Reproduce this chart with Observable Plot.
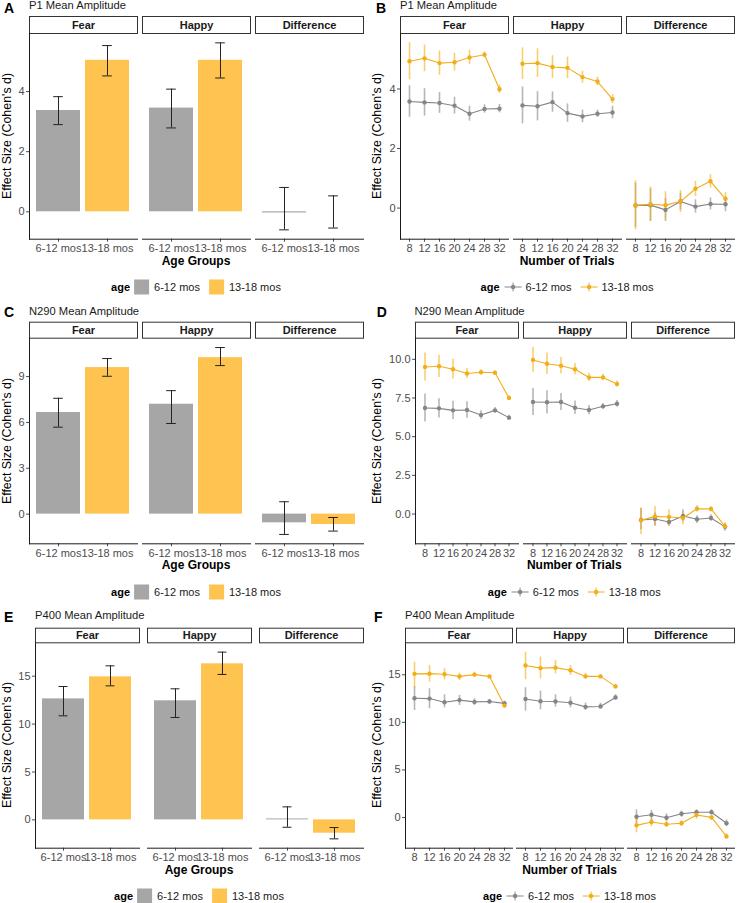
<!DOCTYPE html>
<html>
<head>
<meta charset="utf-8">
<script src="https://cdn.jsdelivr.net/npm/d3@7"></script>
<script src="https://cdn.jsdelivr.net/npm/@observablehq/plot@0.6"></script>
<style>
  body { margin: 0; background: #fff; font-family: "Liberation Sans", Arial, sans-serif; }
  #fig { position: relative; width: 739px; height: 903px; overflow: hidden; background: #fff; }
  .panel { position: absolute; width: 369px; height: 300px; }
  .panel svg { position: absolute; left: 0; top: 0; overflow: visible; }
  .letter { position: absolute; font-weight: bold; font-size: 14px; line-height: 1; color: #000; }
  .title { position: absolute; font-size: 11.2px; line-height: 1; color: #1a1a1a; white-space: nowrap; }
  .ytitle { position: absolute; left: 7px; font-size: 12.4px; line-height: 1; color: #000; white-space: nowrap;
            transform: translate(-50%, -50%) rotate(-90deg); }
  .xtitle { position: absolute; font-size: 12px; line-height: 1; font-weight: bold; color: #000; white-space: nowrap;
            transform: translate(-50%, -50%); }
  .legend { position: absolute; display: flex; align-items: center; font-size: 11px; line-height: 1; white-space: nowrap;
            transform: translate(-50%, -50%); color: #1a1a1a; }
</style>
</head>
<body>
<div id="fig"></div>
<script>
// ---------------- data ----------------
const conditions = ["Fear", "Happy", "Difference"];
const ages = ["6-12 mos", "13-18 mos"];
const trials = [8, 12, 16, 20, 24, 28, 32];
const componentTitles = ["P1 Mean Amplitude", "N290 Mean Amplitude", "P400 Mean Amplitude"];
const barLetters = ["A", "C", "E"];
const lineLetters = ["B", "D", "F"];

// bar panels: rows = condition, columns = age group
const p1BarMean = [[3.37, 5.04], [3.45, 5.04], [-0.04, 0.00]];
const p1BarLo   = [[2.90, 4.52], [2.79, 4.45], [-0.60, -0.54]];
const p1BarHi   = [[3.83, 5.53], [4.08, 5.62], [0.81, 0.53]];

const n290BarMean = [[6.65, 9.59], [7.19, 10.24], [-0.57, -0.68]];
const n290BarLo   = [[5.69, 9.02], [5.93, 9.72], [-1.33, -1.11]];
const n290BarHi   = [[7.58, 10.18], [8.08, 10.90], [0.81, -0.22]];

const p400BarMean = [[12.63, 14.93], [12.43, 16.29], [0.10, -1.39]];
const p400BarLo   = [[10.86, 13.99], [10.69, 15.18], [-0.77, -1.98]];
const p400BarHi   = [[13.92, 16.08], [13.68, 17.51], [1.36, -0.80]];

// line panels: rows = condition, columns = number of trials
const p1YoungMean = [[3.58, 3.55, 3.53, 3.44, 3.17, 3.33, 3.34], [3.45, 3.42, 3.56, 3.19, 3.08, 3.17, 3.21], [0.09, 0.10, -0.06, 0.22, 0.05, 0.14, 0.13]];
const p1YoungLo   = [[3.05, 3.09, 3.18, 3.16, 2.92, 3.19, 3.20], [2.83, 2.93, 3.22, 2.88, 2.87, 3.05, 3.00], [-0.65, -0.45, -0.45, -0.06, -0.17, -0.06, -0.12]];
const p1YoungHi   = [[4.11, 4.01, 3.88, 3.72, 3.42, 3.47, 3.48], [4.07, 3.91, 3.90, 3.50, 3.29, 3.29, 3.42], [0.83, 0.65, 0.33, 0.50, 0.28, 0.34, 0.38]];
const p1OldMean   = [[4.93, 5.03, 4.87, 4.90, 5.06, 5.15, 3.99], [4.85, 4.87, 4.74, 4.71, 4.40, 4.25, 3.66], [0.09, 0.13, 0.10, 0.22, 0.65, 0.90, 0.31]];
const p1OldLo     = [[4.31, 4.58, 4.46, 4.60, 4.82, 5.05, 3.85], [4.32, 4.39, 4.36, 4.35, 4.20, 4.10, 3.51], [-0.73, -0.45, -0.35, -0.15, 0.39, 0.67, 0.10]];
const p1OldHi     = [[5.55, 5.48, 5.28, 5.20, 5.30, 5.25, 4.13], [5.38, 5.35, 5.12, 5.07, 4.60, 4.40, 3.81], [0.92, 0.71, 0.55, 0.59, 0.90, 1.12, 0.52]];

const n290YoungMean = [[6.85, 6.83, 6.70, 6.72, 6.40, 6.70, 6.23], [7.24, 7.22, 7.24, 6.87, 6.72, 6.96, 7.13], [-0.38, -0.32, -0.52, -0.13, -0.34, -0.26, -0.83]];
const n290YoungLo   = [[5.95, 6.21, 6.11, 6.19, 6.13, 6.52, 6.08], [6.36, 6.47, 6.69, 6.44, 6.42, 6.77, 6.92], [-1.00, -0.79, -0.79, -0.47, -0.62, -0.47, -1.11]];
const n290YoungHi   = [[7.75, 7.45, 7.29, 7.25, 6.67, 6.88, 6.38], [8.12, 7.97, 7.79, 7.30, 7.02, 7.15, 7.34], [0.38, 0.06, -0.26, 0.27, -0.11, -0.04, -0.62]];
const n290OldMean   = [[9.50, 9.55, 9.36, 9.08, 9.16, 9.13, 7.50], [9.96, 9.71, 9.58, 9.36, 8.83, 8.83, 8.40], [-0.41, -0.15, -0.19, -0.26, 0.34, 0.33, -0.79]];
const n290OldLo     = [[8.60, 8.83, 8.72, 8.76, 9.00, 9.02, 7.35], [9.16, 9.02, 9.05, 8.99, 8.56, 8.62, 8.21], [-1.32, -0.75, -0.79, -0.70, 0.13, 0.13, -1.00]];
const n290OldHi     = [[10.40, 10.27, 10.00, 9.40, 9.32, 9.24, 7.65], [10.76, 10.40, 10.11, 9.73, 9.10, 9.04, 8.59], [0.38, 0.49, 0.27, 0.15, 0.55, 0.49, -0.57]];

const p400YoungMean = [[12.53, 12.50, 12.12, 12.34, 12.15, 12.20, 12.00], [12.45, 12.22, 12.20, 12.06, 11.63, 11.67, 12.62], [0.08, 0.30, -0.03, 0.39, 0.55, 0.56, -0.60]];
const p400YoungLo   = [[11.25, 11.43, 11.53, 11.78, 11.78, 11.96, 11.67], [11.18, 11.32, 11.60, 11.53, 11.25, 11.49, 12.38], [-0.74, -0.32, -0.39, 0.03, 0.21, 0.30, -0.95]];
const p400YoungHi   = [[13.78, 13.53, 12.90, 12.83, 12.48, 12.41, 12.23], [13.64, 13.28, 12.90, 12.65, 12.02, 12.02, 12.90], [0.81, 0.74, 0.39, 0.67, 0.81, 0.82, -0.25]];
const p400OldMean   = [[15.10, 15.12, 15.05, 14.83, 15.02, 14.83, 11.76], [15.98, 15.70, 15.75, 15.47, 14.83, 14.83, 13.78], [-0.82, -0.47, -0.70, -0.60, 0.26, 0.02, -1.98]];
const p400OldLo     = [[13.64, 14.23, 14.48, 14.41, 14.75, 14.69, 11.54], [14.48, 14.58, 15.11, 14.93, 14.58, 14.65, 13.53], [-1.60, -0.95, -1.02, -0.95, -0.18, -0.32, -2.24]];
const p400OldHi     = [[16.33, 15.98, 15.64, 15.17, 15.28, 14.93, 12.02], [17.38, 16.86, 16.51, 15.98, 15.17, 15.00, 13.99], [-0.10, -0.14, -0.39, -0.32, 0.63, 0.21, -1.71]];

const barYTicks  = [[0, 2, 4], [0, 3, 6, 9], [0, 5, 10, 15]];
const lineYTicks = [[0, 2, 4], [0, 2.5, 5, 7.5, 10], [0, 5, 10, 15]];

// ---------------- styling / layout ----------------
const FONT = '"Liberation Sans", Arial, sans-serif';
const barColors = ["#A6A6A6", "#FEC44F"];
const lineColors = ["#858585", "#F2AE18"];
const rows = [
  {top: 0,   stripTop: 16,   plotTop: 33,   plotBottom: 238.7, titleBase: 9.5,  letterBase: 12.7, xTitleY: 260.5, legendY: 287},
  {top: 300, stripTop: 21.7, plotTop: 37.7, plotBottom: 243.3, titleBase: 15,   letterBase: 16.7, xTitleY: 265,   legendY: 291.7},
  {top: 600, stripTop: 27.7, plotTop: 42.3, plotBottom: 247.7, titleBase: 19.3, letterBase: 21.7, xTitleY: 270,   legendY: 295.7}
];
const barLayout  = [{ml: 29, mr: 6, gap: 5, lx: 4}, {ml: 29, mr: 6, gap: 5, lx: 4}, {ml: 35, mr: 6, gap: 8, lx: 4}];
const lineLayout = [{ml: 30, mr: 5, gap: 5, lx: 6}, {ml: 44.5, mr: 5, gap: 5.5, lx: 6.7}, {ml: 35, mr: 5, gap: 4.5, lx: 4}];

function barRows(mean, lo, hi) {
  return conditions.flatMap((c, i) => ages.map((a, j) => ({cond: c, age: a, mean: mean[i][j], lo: lo[i][j], hi: hi[i][j]})));
}
function lineRows(groups) {
  return groups.flatMap(([age, mean, lo, hi]) =>
    conditions.flatMap((c, i) => trials.map((t, k) => ({cond: c, age, trial: t, mean: mean[i][k], lo: lo[i][k], hi: hi[i][k]}))));
}
function yDomain(data, withZero) {
  const vals = data.flatMap(d => [d.mean, d.lo, d.hi]);
  if (withZero) vals.push(0);
  const [a, b] = d3.extent(vals);
  const pad = (b - a) * 0.05;
  return [a - pad, b + pad];
}

const barData = [
  barRows(p1BarMean, p1BarLo, p1BarHi),
  barRows(n290BarMean, n290BarLo, n290BarHi),
  barRows(p400BarMean, p400BarLo, p400BarHi)
];
const lineData = [
  lineRows([[ages[0], p1YoungMean, p1YoungLo, p1YoungHi], [ages[1], p1OldMean, p1OldLo, p1OldHi]]),
  lineRows([[ages[0], n290YoungMean, n290YoungLo, n290YoungHi], [ages[1], n290OldMean, n290OldLo, n290OldHi]]),
  lineRows([[ages[0], p400YoungMean, p400YoungLo, p400YoungHi], [ages[1], p400OldMean, p400OldLo, p400OldHi]])
];

const fig = document.getElementById("fig");

function addText(parent, cls, text, styles) {
  const el = document.createElement("div");
  el.className = cls;
  el.textContent = text;
  Object.assign(el.style, styles);
  parent.appendChild(el);
  return el;
}

function legend(parent, kind, colors, x, y) {
  const wrap = document.createElement("div");
  wrap.className = "legend";
  wrap.style.left = x + "px";
  wrap.style.top = y + "px";
  const t = document.createElement("span");
  t.textContent = "age";
  t.style.fontWeight = "bold";
  t.style.color = "#000";
  t.style.marginRight = kind === "bar" ? "4px" : "5px";
  wrap.appendChild(t);
  ages.forEach((a, i) => {
    let key;
    if (kind === "bar") {
      key = document.createElement("span");
      Object.assign(key.style, {display: "inline-block", width: "15px", height: "15px", background: colors[i],
        marginLeft: i ? "9px" : "0", marginRight: "5px"});
    } else {
      const ns = "http://www.w3.org/2000/svg";
      key = document.createElementNS(ns, "svg");
      key.setAttribute("width", 17); key.setAttribute("height", 15);
      key.style.marginLeft = i ? "9px" : "0";
      key.style.marginRight = "4px";
      key.style.position = "static";
      const h = document.createElementNS(ns, "line");
      h.setAttribute("x1", 0); h.setAttribute("x2", 17); h.setAttribute("y1", 7.5); h.setAttribute("y2", 7.5);
      h.setAttribute("stroke", colors[i]); h.setAttribute("stroke-width", 1);
      const v = document.createElementNS(ns, "line");
      v.setAttribute("x1", 8.5); v.setAttribute("x2", 8.5); v.setAttribute("y1", 3); v.setAttribute("y2", 12);
      v.setAttribute("stroke", colors[i]); v.setAttribute("stroke-width", 1.5); v.setAttribute("stroke-opacity", 0.6);
      const c = document.createElementNS(ns, "circle");
      c.setAttribute("cx", 8.5); c.setAttribute("cy", 7.5); c.setAttribute("r", 2.2); c.setAttribute("fill", colors[i]);
      key.append(h, v, c);
    }
    wrap.appendChild(key);
    const lab = document.createElement("span");
    lab.textContent = a;
    wrap.appendChild(lab);
  });
  parent.appendChild(wrap);
}

function panel(r, kind) {
  const row = rows[r];
  const lay = kind === "bar" ? barLayout[r] : lineLayout[r];
  const data = kind === "bar" ? barData[r] : lineData[r];
  const colors = kind === "bar" ? barColors : lineColors;
  const W = 369;
  const innerH = row.plotBottom - row.plotTop;
  const stripH = row.plotTop - row.stripTop;
  const range = W - lay.ml - lay.mr;
  const facetW = (range - 2 * lay.gap) / 3;
  const fxPad = lay.gap / (facetW + lay.gap);
  const step = facetW / 2.2;

  const div = document.createElement("div");
  div.className = "panel";
  div.style.left = (kind === "bar" ? 0 : 370) + "px";
  div.style.top = row.top + "px";
  fig.appendChild(div);

  const common = [
    Plot.frame({insetTop: -stripH, insetBottom: innerH, stroke: "#333", strokeWidth: 1, fill: "white"}),
    Plot.text(conditions, {fx: d => d, text: d => d, frameAnchor: "top", dy: -stripH / 2, fontWeight: "bold",
      fontSize: 11, fill: "#1a1a1a", lineAnchor: "middle"}),
    Plot.frame({anchor: "bottom", stroke: "#1a1a1a", strokeWidth: 1}),
    Plot.frame({anchor: "left", facetAnchor: "left", stroke: "#1a1a1a", strokeWidth: 1})
  ];

  let marks, xScale;
  if (kind === "bar") {
    xScale = {domain: ages, paddingInner: 0.1, paddingOuter: 0.15, label: null, tickSize: 3, tickPadding: 2};
    const capInset = 0.35 * step;
    marks = [
      ...common,
      Plot.barY(data, {fx: "cond", x: "age", y: "mean", fill: "age"}),
      Plot.ruleX(data, {fx: "cond", x: "age", y1: "lo", y2: "hi", stroke: "#222", strokeWidth: 1}),
      Plot.tickY(data, {fx: "cond", x: "age", y: "lo", stroke: "#222", strokeWidth: 1, insetLeft: capInset, insetRight: capInset}),
      Plot.tickY(data, {fx: "cond", x: "age", y: "hi", stroke: "#222", strokeWidth: 1, insetLeft: capInset, insetRight: capInset})
    ];
  } else {
    xScale = {type: "point", domain: trials, padding: 0.55, label: null, tickSize: 3, tickPadding: 2};
    marks = [
      ...common,
      Plot.ruleX(data, {fx: "cond", x: "trial", y1: "lo", y2: "hi", stroke: "age", strokeWidth: 1.6, strokeOpacity: 0.6}),
      Plot.line(data, {fx: "cond", x: "trial", y: "mean", stroke: "age", z: "age", strokeWidth: 1.1}),
      Plot.dot(data, {fx: "cond", x: "trial", y: "mean", fill: "age", r: 2.2})
    ];
  }
  const yticks = kind === "bar" ? barYTicks[r] : lineYTicks[r];
  const fmt = (kind === "line" && r === 1) ? d3.format(".1f") : d3.format("d");

  const chart = Plot.plot({
    width: W,
    height: row.plotBottom + 18,
    marginTop: row.plotTop,
    marginBottom: 18,
    marginLeft: lay.ml,
    marginRight: lay.mr,
    style: {fontFamily: FONT, fontSize: "11px", color: "#4D4D4D", background: "none", overflow: "visible"},
    fx: {domain: conditions, paddingInner: fxPad, paddingOuter: 0, axis: null, label: null},
    x: xScale,
    y: {domain: yDomain(data, kind === "bar"), ticks: yticks, tickFormat: fmt, label: null, tickSize: 3, tickPadding: 2},
    color: {domain: ages, range: colors},
    marks
  });
  div.appendChild(chart);

  const letters = kind === "bar" ? barLetters : lineLetters;
  addText(div, "letter", letters[r], {left: lay.lx + "px", top: (row.letterBase - 11.9) + "px"});
  addText(div, "title", componentTitles[r], {left: lay.ml + "px", top: (row.titleBase - 9.5) + "px"});
  addText(div, "ytitle", "Effect Size (Cohen's d)", {top: ((row.plotTop + row.plotBottom) / 2) + "px"});
  const cx = (lay.ml + W - lay.mr) / 2;
  addText(div, "xtitle", kind === "bar" ? "Age Groups" : "Number of Trials", {left: cx + "px", top: row.xTitleY + "px"});
  legend(div, kind, colors, cx, row.legendY);
}

for (let r = 0; r < 3; r++) {
  panel(r, "bar");
  panel(r, "line");
}
</script>
</body>
</html>
